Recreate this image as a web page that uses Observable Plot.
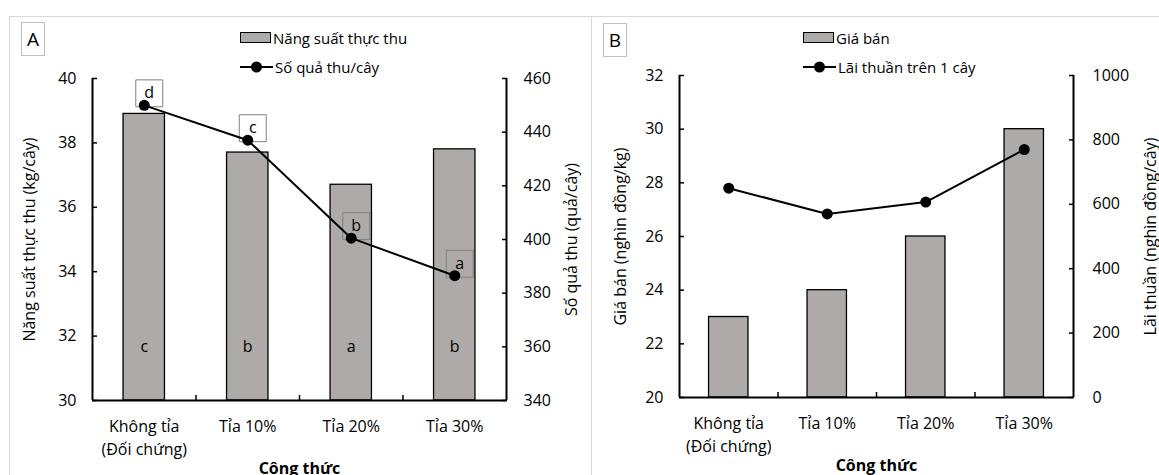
<!DOCTYPE html>
<html><head><meta charset="utf-8">
<script src="https://cdn.jsdelivr.net/npm/d3@7"></script>
<script src="https://cdn.jsdelivr.net/npm/@observablehq/plot@0.6"></script>
<style>
body{margin:0;background:#fff;font-family:"Open Sans",sans-serif;color:#000;}
#page{position:relative;width:1159px;height:475px;overflow:hidden;background:#fff;}
.panel{position:absolute;border:1px solid #d9d9d9;box-sizing:border-box;}
.holder{position:absolute;top:0;}
.holder svg{position:absolute;left:0;top:0;max-width:none;}
.tag{position:absolute;border:1px solid #bfbfbf;font-size:19px;display:flex;align-items:center;justify-content:center;box-sizing:border-box;background:#fff;}
.leg{position:absolute;font-size:15px;display:flex;align-items:center;white-space:nowrap;height:20px;}
.leg svg{margin-right:2px;}
</style></head>
<body><div id="page"></div>
<script>
// ---- data ----
const categories = ["Không tỉa\n(Đối chứng)", "Tỉa 10%", "Tỉa 20%", "Tỉa 30%"];
const yieldKg = [38.9, 37.7, 36.7, 37.8];
const yieldLetters = ["c", "b", "a", "b"];
const fruitsPerTree = [450, 437, 400.5, 386.5];
const fruitLetters = ["d", "c", "b", "a"];
const price = [23, 24, 26, 30];
const profit = [650, 570, 607, 770];
const ticksYieldKg = [30, 32, 34, 36, 38, 40];
const ticksFruits = [340, 360, 380, 400, 420, 440, 460];
const ticksPrice = [20, 22, 24, 26, 28, 30, 32];
const ticksProfit = [0, 200, 400, 600, 800, 1000];

const page = document.getElementById("page");
const idx = d3.range(categories.length);
const FONT = "'Open Sans', sans-serif";
const FS = 16;

function panel(cfg) {
  const holder = document.createElement("div");
  holder.className = "holder";
  holder.style.left = cfg.left + "px";
  holder.style.width = cfg.width + "px";
  holder.style.height = cfg.height + "px";
  page.appendChild(holder);
  const common = {
    width: cfg.width, height: cfg.height,
    marginLeft: cfg.mL, marginRight: cfg.mR, marginTop: cfg.mT, marginBottom: cfg.height - cfg.bottom,
    style: {background: "transparent", fontFamily: FONT, fontSize: FS + "px", color: "black", overflow: "visible"}
  };
  const xDomain = [-0.5, categories.length - 0.5];
  const bounds = idx.slice(1).map(i => i - 0.5);
  const p1 = Plot.plot({
    ...common,
    x: {domain: xDomain},
    y: {domain: cfg.leftDomain},
    marks: [
      Plot.rectY(idx, {x1: i => i - 0.2, x2: i => i + 0.2, y1: cfg.leftDomain[0], y2: i => cfg.bars[i], fill: "#aeaaaa", stroke: "black", strokeWidth: 1.3}),
      cfg.barLetters ? Plot.text(idx, {x: i => i, text: i => cfg.barLetters[i], frameAnchor: "bottom", dy: -49, fontSize: FS}) : null,
      Plot.ruleY([cfg.leftDomain[0]], {strokeWidth: 2}),
      Plot.ruleX(xDomain, {strokeWidth: 2}),
      Plot.axisY(cfg.leftTicks, {anchor: "left", tickSize: -5, tickPadding: 21, strokeWidth: 1.5, fontSize: FS, tickFormat: d => String(d)}),
      Plot.axisX(idx, {anchor: "bottom", tickSize: 0, tickPadding: 15, tickFormat: i => categories[i], lineHeight: 1.45, fontSize: FS}),
      Plot.axisX(bounds, {anchor: "bottom", tickSize: -5, strokeWidth: 1.5, tickFormat: () => ""}),
      Plot.text([cfg.leftTitle], {frameAnchor: "left", textAnchor: "middle", rotate: -90, dx: cfg.leftTitleDx, fontSize: FS}),
      Plot.text(["Công thức"], {frameAnchor: "bottom", textAnchor: "middle", dy: 73, fontSize: FS, fontWeight: "bold"})
    ]
  });
  const p2 = Plot.plot({
    ...common,
    x: {domain: xDomain, axis: null},
    y: {domain: cfg.rightDomain},
    marks: [
      cfg.lineLetters ? Plot.dot(idx, {x: i => i, y: i => cfg.line[i], symbol: "square", r: 15.2, fill: "none", stroke: "#808080", strokeWidth: 1, dx: 5, dy: -12}) : null,
      cfg.lineLetters ? Plot.text(idx, {x: i => i, y: i => cfg.line[i], text: i => cfg.lineLetters[i], dx: 5, dy: -12, fontSize: FS}) : null,
      Plot.lineY(idx, {x: i => i, y: i => cfg.line[i], stroke: "black", strokeWidth: 2}),
      Plot.dot(idx, {x: i => i, y: i => cfg.line[i], r: 5.5, fill: "black"}),
      Plot.axisY(cfg.rightTicks, {anchor: "right", tickSize: -5, tickPadding: cfg.rightPad, strokeWidth: 1.5, fontSize: FS, tickFormat: d => String(d)}),
      Plot.text([cfg.rightTitle], {frameAnchor: "right", textAnchor: "middle", rotate: -90, dx: cfg.rightTitleDx, fontSize: FS})
    ]
  });
  holder.appendChild(p1);
  holder.appendChild(p2);
}

function box(left, top, w, h, cls, html) {
  const d = document.createElement("div");
  d.className = cls;
  d.style.left = left + "px"; d.style.top = top + "px";
  if (w) d.style.width = w + "px";
  if (h) d.style.height = h + "px";
  d.innerHTML = html;
  page.appendChild(d);
}

// panel frames
box(9, 16, 583, 480, "panel", "");
box(591, 16, 600, 480, "panel", "");

panel({
  left: 0, width: 591, height: 500, mL: 92, mR: 85, mT: 78, bottom: 400,
  leftDomain: [30, 40], leftTicks: ticksYieldKg, bars: yieldKg, barLetters: yieldLetters,
  rightDomain: [340, 460], rightTicks: ticksFruits, line: fruitsPerTree, lineLetters: fruitLetters,
  leftTitle: "Năng suất thực thu (kg/cây)", leftTitleDx: -63,
  rightTitle: "Số quả thu (quả/cây)", rightTitleDx: 65, rightPad: 22
});
panel({
  left: 591, width: 568, height: 500, mL: 88, mR: 86, mT: 75, bottom: 397,
  leftDomain: [20, 32], leftTicks: ticksPrice, bars: price, barLetters: null,
  rightDomain: [0, 1000], rightTicks: ticksProfit, line: profit, lineLetters: null,
  leftTitle: "Giá bán (nghìn đồng/kg)", leftTitleDx: -59,
  rightTitle: "Lãi thuần (nghìn đồng/cây)", rightTitleDx: 77, rightPad: 24
});

// panel tags
box(21, 22, 24, 34, "tag", "A");
box(603, 23, 24, 34, "tag", "B");

// legends
const barSw = '<svg width="31" height="12"><rect x="0.5" y="0.5" width="30" height="10" fill="#aeaaaa" stroke="#000" stroke-width="1"/></svg>';
const lineSw = '<svg width="33" height="12"><line x1="0" y1="6" x2="33" y2="6" stroke="#000" stroke-width="2"/><circle cx="16.5" cy="6" r="5.5" fill="#000"/></svg>';
box(240, 28, null, null, "leg", barSw + "Năng suất thực thu");
box(240, 57, null, null, "leg", lineSw + "Số quả thu/cây");
box(803, 28, null, null, "leg", barSw + "Giá bán");
box(803, 57, null, null, "leg", lineSw + "Lãi thuần trên 1 cây");
</script>
</body></html>
